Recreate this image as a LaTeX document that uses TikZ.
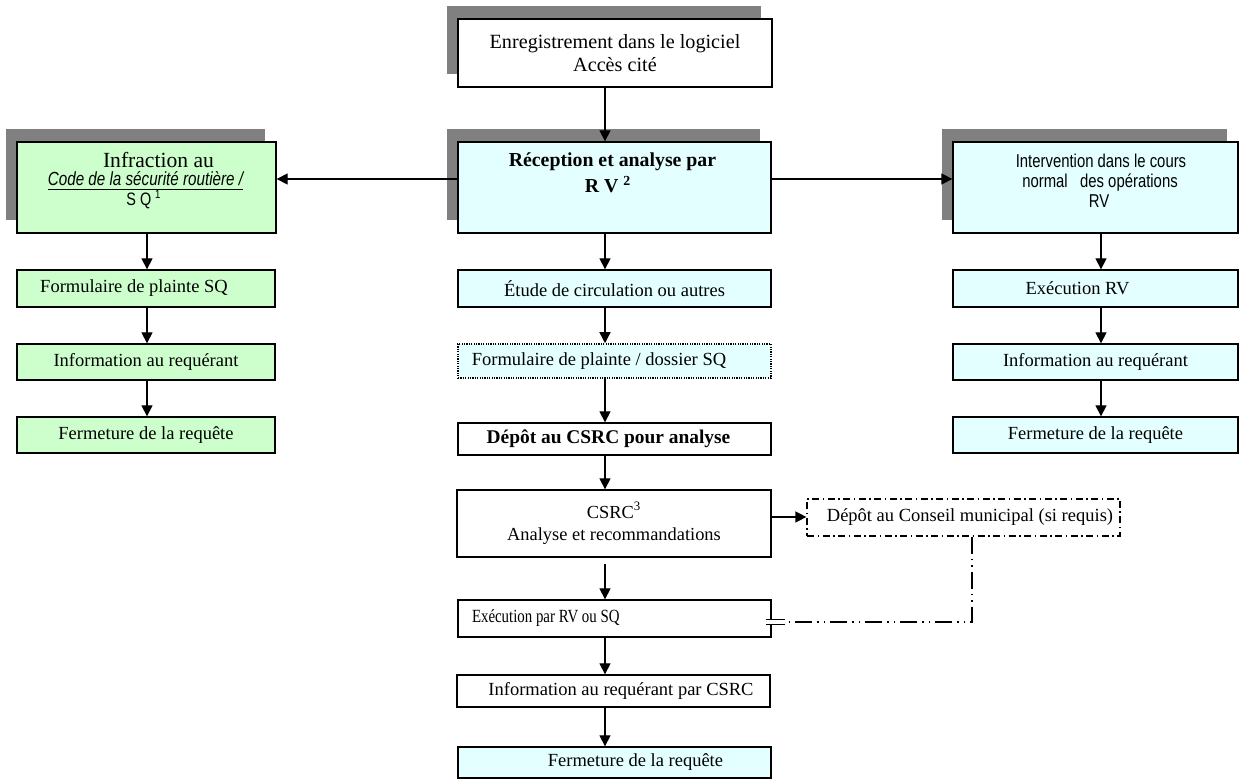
\documentclass[tikz,border=0pt]{standalone}
\usepackage{fontspec}
\setmainfont{Liberation Serif}
\newfontfamily\arialn[FakeStretch=0.8]{Liberation Sans}
\newfontfamily\timesn[FakeStretch=0.8]{Liberation Serif}
\usetikzlibrary{shadows,arrows.meta,calc}
\definecolor{lgreen}{HTML}{CCFFCC}
\definecolor{lcyan}{HTML}{E3FFFF}
\definecolor{shgray}{HTML}{808080}
\begin{document}
\begin{tikzpicture}[x=0.5pt,y=-0.5pt,
  box/.style={draw=black, line width=0.65pt, inner sep=0pt, fill=white,
    font=\fontsize{9.25pt}{11pt}\selectfont},
  shad/.style={drop shadow={shadow xshift=-5.75pt, shadow yshift=6.5pt, opacity=1, fill=shgray}},
  arr/.style={line width=0.65pt, -{Triangle[length=5.5pt,width=5.5pt]}},
  txt/.style={inner sep=0pt, anchor=base},
  dotbox/.style={dash pattern=on 0.6pt off 0.6pt, line width=0.75pt},
  dashdotbox/.style={dash pattern=on 3.5pt off 1.75pt on 0.75pt off 1.75pt, line width=0.6pt},
  ddot/.style={line width=0.65pt, dash pattern=on 8.5pt off 2.5pt on 0.75pt off 2.5pt on 0.75pt off 2.5pt}
]
\useasboundingbox (0,0) rectangle (1239,779);

% coordinates for connector columns
\coordinate (cx) at (605,0);
\coordinate (lx) at (147,0);
\coordinate (rx) at (1101,0);
\coordinate (hy) at (0,179);
\coordinate (cy) at (0,517);

% top box
\node[box, shad, minimum width=157pt, minimum height=34pt, align=center,
  font=\fontsize{10.1pt}{11.65pt}\selectfont] (enr) at (615,53)
  {Enregistrement dans le logiciel\\Accès cité};

% big boxes
\node[box, shad, fill=lcyan, minimum width=156.5pt, minimum height=45.5pt] (rec) at (614.5,187.5) {};
\node[txt, font=\fontsize{9.9pt}{12pt}\selectfont\bfseries] (recA) at (612.5,167) {Réception et analyse par};
\node[txt, font=\fontsize{9.9pt}{12pt}\selectfont\bfseries] (recB) at (608,193) {R V \textsuperscript{2}};

\node[box, shad, fill=lgreen, minimum width=129.5pt, minimum height=45.5pt] (inf) at (146.5,187.5) {};
\node[txt, font=\fontsize{10.8pt}{12pt}\selectfont] (infA) at (158.5,168) {Infraction au};
\node[txt, font=\arialn\itshape\fontsize{9.5pt}{10pt}\selectfont] (infB) at (145.5,186) {\underline{Code de la sécurité routière /}};
\node[txt, font=\arialn\fontsize{9pt}{9pt}\selectfont] (infC) at (144,206) {S Q \textsuperscript{1}};

\node[box, shad, fill=lcyan, minimum width=142.5pt, minimum height=45.5pt] (int) at (1095.5,187.5) {};
\node[txt, font=\arialn\fontsize{9.3pt}{10pt}\selectfont] (intA) at (1101,168) {Intervention dans le cours};
\node[txt, font=\arialn\fontsize{9.3pt}{10pt}\selectfont] (intB) at (1100,188) {normal\ \ \ des opérations};
\node[txt, font=\arialn\fontsize{9.3pt}{10pt}\selectfont] (intC) at (1099,208) {RV};

% left column
\node[box, fill=lgreen, minimum width=129pt, minimum height=18.5pt] (lform) at (146,288.5) {\hspace*{-12pt}Formulaire de plainte SQ};
\node[box, fill=lgreen, minimum width=129pt, minimum height=18pt] (linfo) at (146,362) {Information au requérant};
\node[box, fill=lgreen, minimum width=129pt, minimum height=18pt] (lferm) at (146,435) {Fermeture de la requête};

% right column
\node[box, fill=lcyan, minimum width=142.5pt, minimum height=18.5pt] (rexe) at (1095.5,288.5) {\hspace*{-18pt}Exécution RV};
\node[box, fill=lcyan, minimum width=142.5pt, minimum height=18pt] (rinfo) at (1095.5,362) {Information au requérant};
\node[box, fill=lcyan, minimum width=142.5pt, minimum height=18pt] (rferm) at (1095.5,435) {Fermeture de la requête};

% center column
\node[box, fill=lcyan, minimum width=156.5pt, minimum height=18.5pt] (etu) at (614.5,288.5) {Étude de circulation ou autres};
\node[box, dotbox, fill=lcyan, minimum width=156.5pt, minimum height=17pt] (cform) at (614.5,361) {\hspace*{-15.5pt}Formulaire de plainte / dossier SQ};
\node[box, minimum width=156.5pt, minimum height=16pt, font=\fontsize{9.7pt}{11pt}\selectfont\bfseries] (dep) at (614.5,439) {\hspace*{-6pt}Dépôt au CSRC pour analyse};
\node[box, minimum width=157pt, minimum height=33.5pt, align=center,
  font=\fontsize{9.2pt}{11pt}\selectfont] (csrc) at (614,523.5) {CSRC\textsuperscript{3}\\Analyse et recommandations};
\node[box, minimum width=156.5pt, minimum height=18.5pt] (exe) at (614.5,618.5)
  {\makebox[156.5pt][l]{\hspace*{7pt}\timesn\fontsize{9.3pt}{11pt}\selectfont Exécution par RV ou SQ}};
\node[box, minimum width=156.5pt, minimum height=16pt] (icsrc) at (613.5,691) {\hspace*{7.5pt}Information au requérant par CSRC};
\node[box, fill=lcyan, minimum width=156.5pt, minimum height=15.5pt] (cferm) at (614.5,762.5) {\hspace*{21pt}Fermeture de la requête};

% conseil
\node[box, dashdotbox, minimum width=156.5pt, minimum height=18.5pt] (cons) at (963.5,517.5) {\hspace*{6.5pt}Dépôt au Conseil municipal (si requis)};

% vertical arrows
\draw[arr] (enr.south -| cx) -- (rec.north -| cx);
\draw[arr] (rec.south -| cx) -- (etu.north -| cx);
\draw[arr] (etu.south -| cx) -- (cform.north -| cx);
\draw[arr] (cform.south -| cx) -- (dep.north -| cx);
\draw[arr] (dep.south -| cx) -- (csrc.north -| cx);
\draw[arr] ($(csrc.south -| cx)+(0,6)$) -- (exe.north -| cx);
\draw[arr] (exe.south -| cx) -- (icsrc.north -| cx);
\draw[arr] (icsrc.south -| cx) -- (cferm.north -| cx);

\draw[arr] (inf.south -| lx) -- (lform.north -| lx);
\draw[arr] (lform.south -| lx) -- (linfo.north -| lx);
\draw[arr] (linfo.south -| lx) -- (lferm.north -| lx);

\draw[arr] (int.south -| rx) -- (rexe.north -| rx);
\draw[arr] (rexe.south -| rx) -- (rinfo.north -| rx);
\draw[arr] (rinfo.south -| rx) -- (rferm.north -| rx);

% horizontal arrows
\draw[arr] (rec.west |- hy) -- (inf.east |- hy);
\draw[arr] (rec.east |- hy) -- (int.west |- hy);
\draw[arr] (csrc.east |- cy) -- (cons.west |- cy);

% dash-dot return connector
\coordinate (jn) at (972,622);
\coordinate (dl) at (785,622);
\draw[ddot] (cons.south -| jn) -- (jn) -- (dl);
\draw[double, double distance=1.6pt, line width=0.5pt] ($(exe.east |- jn)+(-6,0)$) -- (dl);
\end{tikzpicture}
\end{document}
